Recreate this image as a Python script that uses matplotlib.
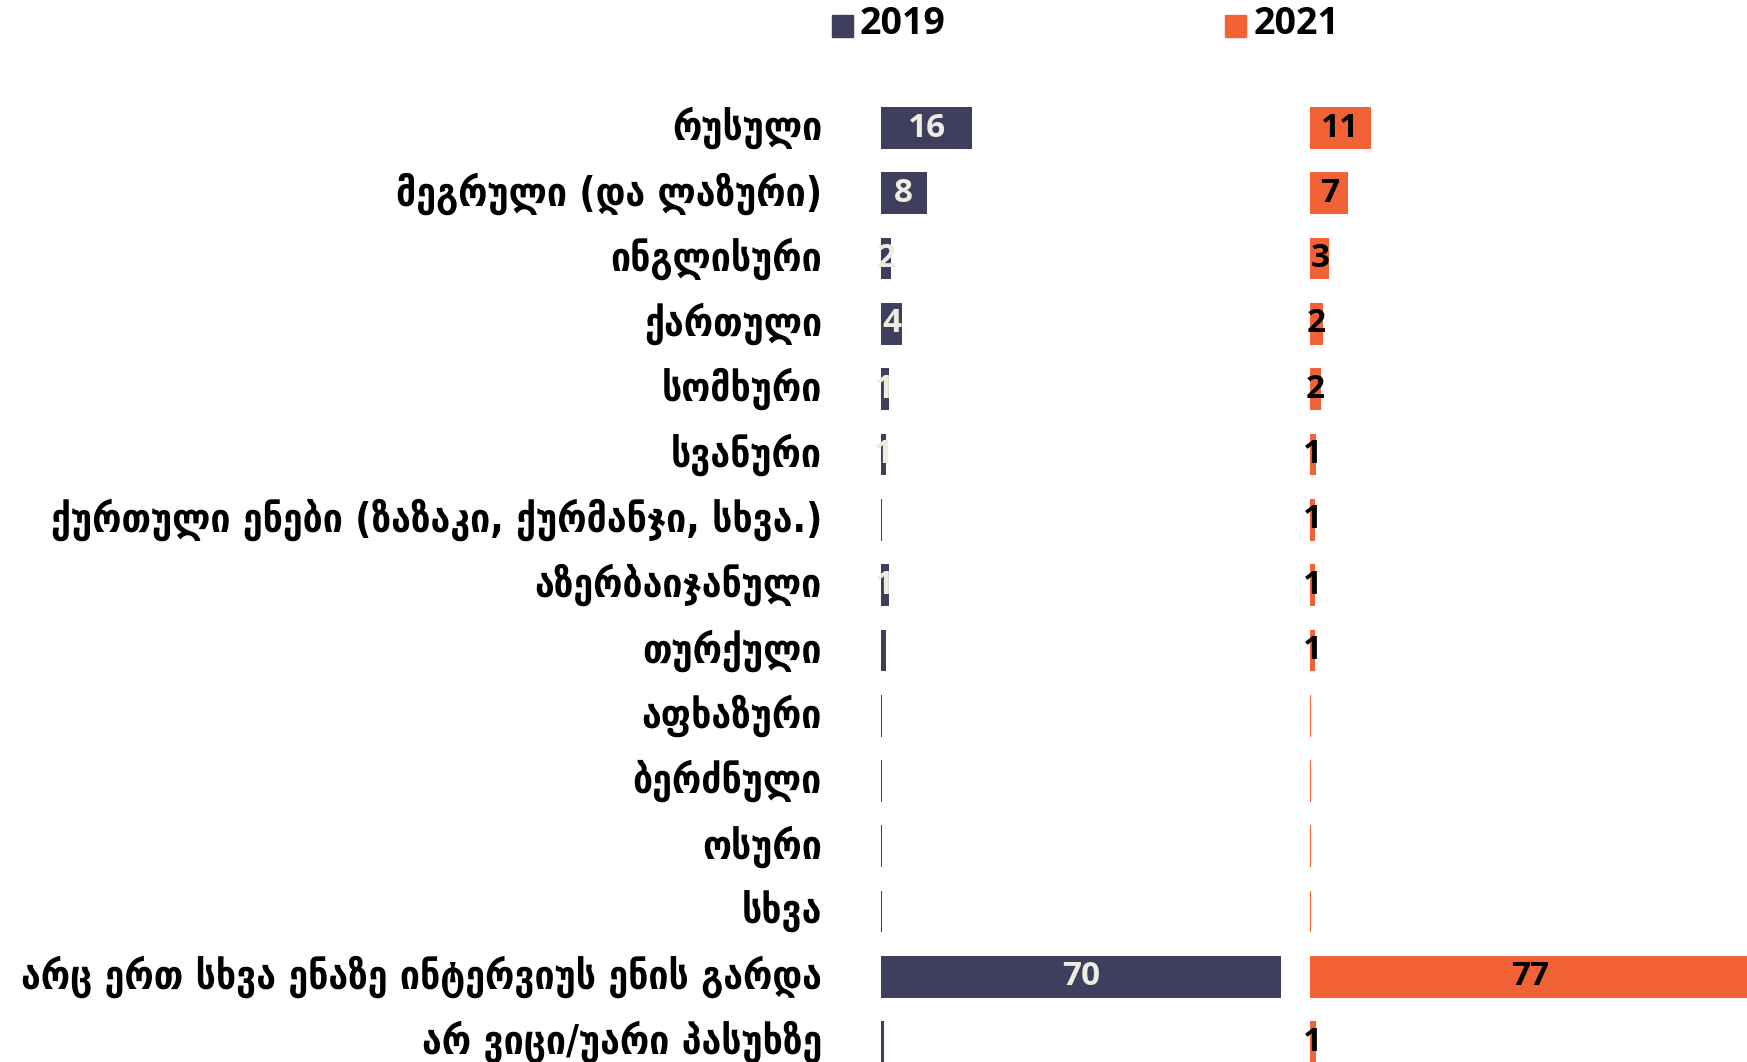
import matplotlib
matplotlib.use("Agg")
import matplotlib.pyplot as plt
from matplotlib.patches import Rectangle

categories = [
    "რუსული",
    "მეგრული (და ლაზური)",
    "ინგლისური",
    "ქართული",
    "სომხური",
    "სვანური",
    "ქურთული ენები (ზაზაკი, ქურმანჯი, სხვა.)",
    "აზერბაიჯანული",
    "თურქული",
    "აფხაზური",
    "ბერძნული",
    "ოსური",
    "სხვა",
    "არც ერთ სხვა ენაზე ინტერვიუს ენის გარდა",
    "არ ვიცი/უარი პასუხზე",
]
values_2019 = [16, 8, 1.7, 3.7, 1.4, 0.8, 0.2, 1.4, 0.8, 0.2, 0.2, 0.2, 0.2, 70, 0.5]
labels_2019 = ["16", "8", "2", "4", "1", "1", "", "1", "", "", "", "", "", "70", ""]
values_2021 = [10.7, 6.7, 3.4, 2.2, 1.9, 1.05, 0.9, 0.9, 0.9, 0.2, 0.2, 0.2, 0.2, 77, 1.05]
labels_2021 = ["11", "7", "3", "2", "2", "1", "1", "1", "1", "", "", "", "", "77", "1"]
series_names = ["2019", "2021"]

COLOR_2019 = "#3d3f5c"
COLOR_2021 = "#f26236"
TEXT_2019 = "#eeebe0"
TEXT_2021 = "black"

W, H = 1747, 1062
fig = plt.figure(figsize=(W / 100, H / 100), dpi=100)

SCALE = 5.714  # px per unit
n = len(categories)
row_h = 65.3
top_center = 128
y_top = top_center - row_h / 2
y_bot = y_top + n * row_h


def make_ax(x0, x1):
    ax = fig.add_axes([x0 / W, 1 - y_bot / H, (x1 - x0) / W, (y_bot - y_top) / H])
    ax.set_xlim(0, (x1 - x0) / SCALE)
    ax.set_ylim(n - 0.5, -0.5)
    ax.axis("off")
    return ax


ax1 = make_ax(881, 1300)
ax2 = make_ax(1310, W)

ys = list(range(n))
ax1.barh(ys, values_2019, height=0.64, color=COLOR_2019)
ax2.barh(ys, values_2021, height=0.64, color=COLOR_2021)

for y, v, lab in zip(ys, values_2019, labels_2019):
    if lab:
        ax1.text(v / 2, y, lab, ha="center", va="center", color=TEXT_2019,
                 fontsize=24, fontweight="bold", family="Open Sans")
for y, v, lab in zip(ys, values_2021, labels_2021):
    if lab:
        ax2.text(v / 2, y, lab, ha="center", va="center", color=TEXT_2021,
                 fontsize=24, fontweight="bold", family="Open Sans")

# category labels
for y, cat in zip(ys, categories):
    ax1.text(-(881 - 822) / SCALE, y, cat, ha="right", va="center",
             fontsize=28.5, fontweight="bold", family="DejaVu Sans",
             fontstretch="condensed", clip_on=False)

# legend
for x_sq, x_txt, name, col in [(832, 860, series_names[0], COLOR_2019),
                               (1225, 1254, series_names[1], COLOR_2021)]:
    fig.patches.append(Rectangle((x_sq / W, 1 - 37 / H), 21 / W, 22 / H,
                                 transform=fig.transFigure, color=col))
    fig.text(x_txt / W, 1 - 24 / H, name, ha="left", va="center",
             fontsize=27, fontweight="bold", family="Open Sans")

fig.savefig("out.png", dpi=100, facecolor="white")
